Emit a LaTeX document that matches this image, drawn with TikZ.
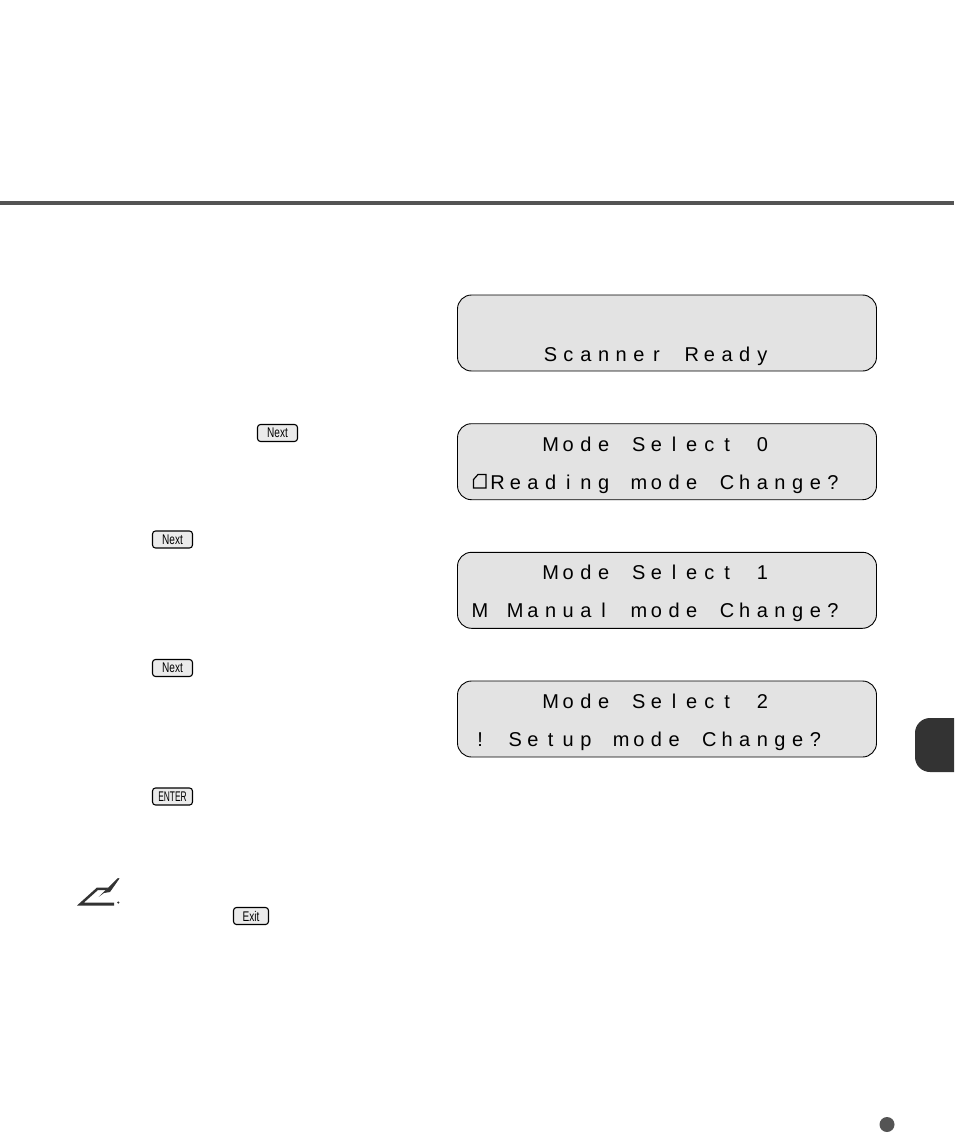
\documentclass[tikz,border=0pt]{standalone}
\usepackage{fontspec}
\usepackage{graphicx}
\setmainfont{Liberation Sans}
\definecolor{lcdgray}{gray}{.89}
\definecolor{keygray}{gray}{.92}
\definecolor{rulegray}{gray}{.33}
\definecolor{tabgray}{gray}{.2}
% one character per display cell
\newlength{\lcdpitch}
\setlength{\lcdpitch}{17.65pt}
\def\lcdnext#1{\ifx#1\relax\else\makebox[\lcdpitch]{#1}\expandafter\lcdnext\fi}
\def\lcd#1{\lcdnext#1\relax}
\tikzset{
  lcdbox/.style={draw=black,line width=.9pt,fill=lcdgray,rounded corners=14pt},
  lcdline/.style={anchor=base west,inner sep=0pt,font=\fontsize{20}{24}\selectfont},
  keybox/.style={draw=black,line width=1.1pt,fill=keygray,rounded corners=3pt,inner sep=0pt,
    font=\fontsize{14}{16}\selectfont},
}
\begin{document}
\begin{tikzpicture}[x=1pt,y=-1pt]
  \useasboundingbox (0,0) rectangle (954,1147);
  \fill[rulegray] (0,201) rectangle (954,205);
  % display panels
  \foreach \y in {295,423.7,552.3,681}
  \draw[lcdbox] (457.5,\y) rectangle +(419,76);
  \node[lcdline] (ready) at (471,361) {\lcd{~~~~Scanner~Ready}};
  \node[lcdline] (sel0) at (471,451) {\lcd{~~~~Mode~Select~0}};
  \node[lcdline] (read) at (471,489) {\lcd{~Reading~mode~Change?}};
  \node[lcdline] (sel1) at (471,579.5) {\lcd{~~~~Mode~Select~1}};
  \node[lcdline] (manual) at (471,617.5) {\lcd{M~Manual~mode~Change?}};
  \node[lcdline] (sel2) at (471,708) {\lcd{~~~~Mode~Select~2}};
  \node[lcdline] (setup) at (471,746) {\lcd{!~Setup~mode~Change?}};
  % sheet symbol in front of Reading
  \draw[line width=1.2pt] (478,474.5)--(486,474.5)--(486,488)--(473.5,488)--(473.5,479.5)--cycle;
  % keys
  \node[keybox,minimum width=40pt,minimum height=17pt] (next0) at (277.5,433) {\scalebox{.72}[1]{Next}};
  \node[keybox,minimum width=40pt,minimum height=17pt] (next1) at (172.5,539.5) {\scalebox{.72}[1]{Next}};
  \node[keybox,minimum width=40pt,minimum height=17pt] (next2) at (172.5,668) {\scalebox{.72}[1]{Next}};
  \node[keybox,minimum width=40pt,minimum height=17pt] (enter) at (172.5,796.5) {\scalebox{.6}[1]{ENTER}};
  \node[keybox,minimum width=35pt,minimum height=17pt] (exit) at (251,916) {\scalebox{.72}[1]{Exit}};
  % note symbol
  \fill[tabgray] (77,905.5)--(97,887.5)--(108,887.5)--(106,890)--(98,890)--(84,902.5)--(114,902.5)--(114,905.5)--cycle;
  \fill[tabgray] (98.5,897)--(118,878)--(119.5,878.5)--(110,892)--(104,893)--cycle;
  \fill[tabgray] (118.3,902.5) circle (1.2);
  % chapter tab and page dot
  \fill[tabgray] (954,718)--(930,718) arc[start angle=-90,end angle=-180,radius=15,y=-1pt]
    --(915,757) arc[start angle=180,end angle=90,radius=15,y=1pt]--(954,772)--cycle;
  \fill[rulegray] (887,1124.5) circle (7.5);
\end{tikzpicture}
\end{document}
